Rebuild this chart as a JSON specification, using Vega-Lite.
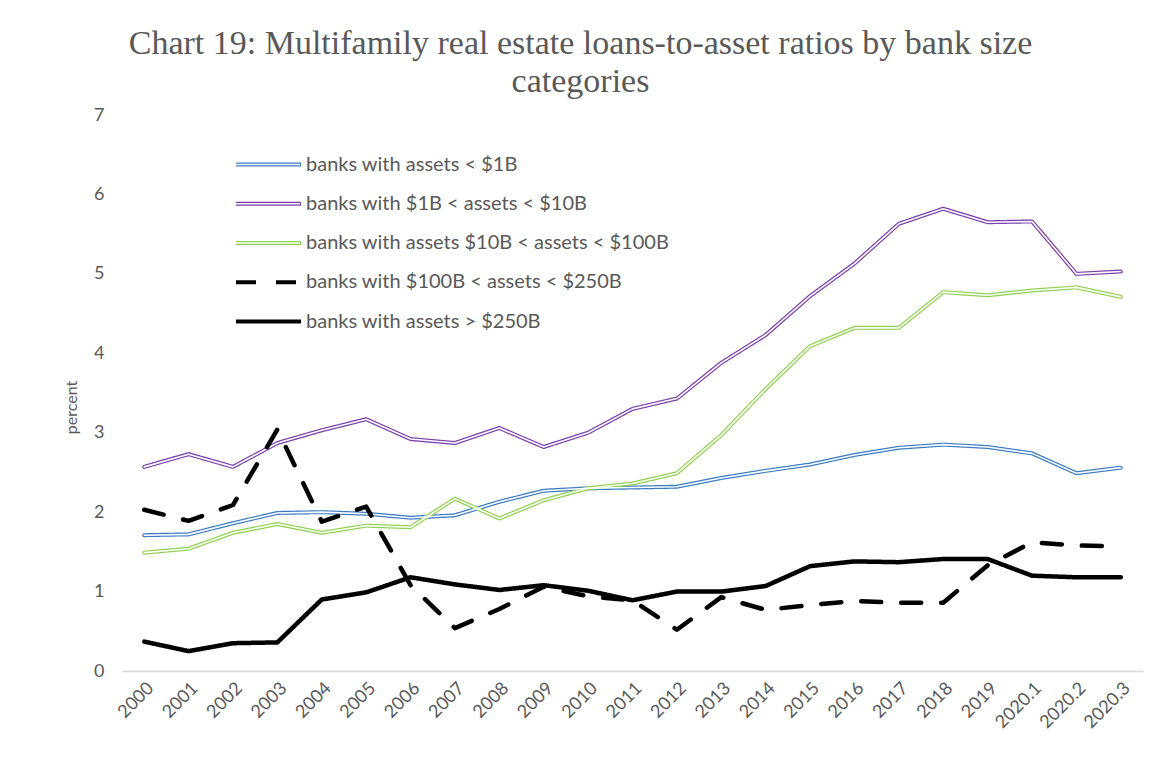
{
  "$schema": "https://vega.github.io/schema/vega-lite/v6.json",
  "width": 1021,
  "height": 556,
  "autosize": {"type": "none"},
  "padding": {"left": 122, "top": 115, "right": 8, "bottom": 90},
  "background": "white",
  "title": {
    "text": ["Chart 19: Multifamily real estate loans-to-asset ratios by bank size", "categories"],
    "font": "Liberation Serif",
    "fontSize": 34,
    "fontWeight": "normal",
    "color": "#595959",
    "anchor": "middle",
    "dx": -52,
    "offset": 7,
    "lineHeight": 38
  },
  "config": {
    "font": "Lato",
    "view": {"stroke": null},
    "axis": {"grid": false, "ticks": false, "labelColor": "#595959", "titleColor": "#595959", "titleFontWeight": "normal"}
  },
  "data": {
    "values": [
      {"period": "2000", "series": "banks with assets < $1B", "value": 1.71},
      {"period": "2001", "series": "banks with assets < $1B", "value": 1.72},
      {"period": "2002", "series": "banks with assets < $1B", "value": 1.86},
      {"period": "2003", "series": "banks with assets < $1B", "value": 1.99},
      {"period": "2004", "series": "banks with assets < $1B", "value": 2.0},
      {"period": "2005", "series": "banks with assets < $1B", "value": 1.98},
      {"period": "2006", "series": "banks with assets < $1B", "value": 1.93},
      {"period": "2007", "series": "banks with assets < $1B", "value": 1.96},
      {"period": "2008", "series": "banks with assets < $1B", "value": 2.13},
      {"period": "2009", "series": "banks with assets < $1B", "value": 2.27},
      {"period": "2010", "series": "banks with assets < $1B", "value": 2.3},
      {"period": "2011", "series": "banks with assets < $1B", "value": 2.31},
      {"period": "2012", "series": "banks with assets < $1B", "value": 2.32},
      {"period": "2013", "series": "banks with assets < $1B", "value": 2.43},
      {"period": "2014", "series": "banks with assets < $1B", "value": 2.52},
      {"period": "2015", "series": "banks with assets < $1B", "value": 2.6},
      {"period": "2016", "series": "banks with assets < $1B", "value": 2.72},
      {"period": "2017", "series": "banks with assets < $1B", "value": 2.81},
      {"period": "2018", "series": "banks with assets < $1B", "value": 2.85},
      {"period": "2019", "series": "banks with assets < $1B", "value": 2.82},
      {"period": "2020.1", "series": "banks with assets < $1B", "value": 2.74},
      {"period": "2020.2", "series": "banks with assets < $1B", "value": 2.49},
      {"period": "2020.3", "series": "banks with assets < $1B", "value": 2.56},
      {"period": "2000", "series": "banks with $1B < assets < $10B", "value": 2.57},
      {"period": "2001", "series": "banks with $1B < assets < $10B", "value": 2.73},
      {"period": "2002", "series": "banks with $1B < assets < $10B", "value": 2.57},
      {"period": "2003", "series": "banks with $1B < assets < $10B", "value": 2.87},
      {"period": "2004", "series": "banks with $1B < assets < $10B", "value": 3.03},
      {"period": "2005", "series": "banks with $1B < assets < $10B", "value": 3.17},
      {"period": "2006", "series": "banks with $1B < assets < $10B", "value": 2.92},
      {"period": "2007", "series": "banks with $1B < assets < $10B", "value": 2.87},
      {"period": "2008", "series": "banks with $1B < assets < $10B", "value": 3.06},
      {"period": "2009", "series": "banks with $1B < assets < $10B", "value": 2.82},
      {"period": "2010", "series": "banks with $1B < assets < $10B", "value": 3.0},
      {"period": "2011", "series": "banks with $1B < assets < $10B", "value": 3.3},
      {"period": "2012", "series": "banks with $1B < assets < $10B", "value": 3.43},
      {"period": "2013", "series": "banks with $1B < assets < $10B", "value": 3.88},
      {"period": "2014", "series": "banks with $1B < assets < $10B", "value": 4.23},
      {"period": "2015", "series": "banks with $1B < assets < $10B", "value": 4.72},
      {"period": "2016", "series": "banks with $1B < assets < $10B", "value": 5.13},
      {"period": "2017", "series": "banks with $1B < assets < $10B", "value": 5.63},
      {"period": "2018", "series": "banks with $1B < assets < $10B", "value": 5.82},
      {"period": "2019", "series": "banks with $1B < assets < $10B", "value": 5.65},
      {"period": "2020.1", "series": "banks with $1B < assets < $10B", "value": 5.66},
      {"period": "2020.2", "series": "banks with $1B < assets < $10B", "value": 5.0},
      {"period": "2020.3", "series": "banks with $1B < assets < $10B", "value": 5.03},
      {"period": "2000", "series": "banks with assets $10B < assets < $100B", "value": 1.49},
      {"period": "2001", "series": "banks with assets $10B < assets < $100B", "value": 1.54},
      {"period": "2002", "series": "banks with assets $10B < assets < $100B", "value": 1.74},
      {"period": "2003", "series": "banks with assets $10B < assets < $100B", "value": 1.85},
      {"period": "2004", "series": "banks with assets $10B < assets < $100B", "value": 1.74},
      {"period": "2005", "series": "banks with assets $10B < assets < $100B", "value": 1.83},
      {"period": "2006", "series": "banks with assets $10B < assets < $100B", "value": 1.81},
      {"period": "2007", "series": "banks with assets $10B < assets < $100B", "value": 2.17},
      {"period": "2008", "series": "banks with assets $10B < assets < $100B", "value": 1.92},
      {"period": "2009", "series": "banks with assets $10B < assets < $100B", "value": 2.15},
      {"period": "2010", "series": "banks with assets $10B < assets < $100B", "value": 2.3},
      {"period": "2011", "series": "banks with assets $10B < assets < $100B", "value": 2.36},
      {"period": "2012", "series": "banks with assets $10B < assets < $100B", "value": 2.49},
      {"period": "2013", "series": "banks with assets $10B < assets < $100B", "value": 2.97},
      {"period": "2014", "series": "banks with assets $10B < assets < $100B", "value": 3.55},
      {"period": "2015", "series": "banks with assets $10B < assets < $100B", "value": 4.09},
      {"period": "2016", "series": "banks with assets $10B < assets < $100B", "value": 4.32},
      {"period": "2017", "series": "banks with assets $10B < assets < $100B", "value": 4.32},
      {"period": "2018", "series": "banks with assets $10B < assets < $100B", "value": 4.77},
      {"period": "2019", "series": "banks with assets $10B < assets < $100B", "value": 4.73},
      {"period": "2020.1", "series": "banks with assets $10B < assets < $100B", "value": 4.79},
      {"period": "2020.2", "series": "banks with assets $10B < assets < $100B", "value": 4.83},
      {"period": "2020.3", "series": "banks with assets $10B < assets < $100B", "value": 4.71},
      {"period": "2000", "series": "banks with $100B  < assets  < $250B", "value": 2.03},
      {"period": "2001", "series": "banks with $100B  < assets  < $250B", "value": 1.89},
      {"period": "2002", "series": "banks with $100B  < assets  < $250B", "value": 2.09},
      {"period": "2003", "series": "banks with $100B  < assets  < $250B", "value": 3.04},
      {"period": "2004", "series": "banks with $100B  < assets  < $250B", "value": 1.88},
      {"period": "2005", "series": "banks with $100B  < assets  < $250B", "value": 2.07},
      {"period": "2006", "series": "banks with $100B  < assets  < $250B", "value": 1.08},
      {"period": "2007", "series": "banks with $100B  < assets  < $250B", "value": 0.54},
      {"period": "2008", "series": "banks with $100B  < assets  < $250B", "value": 0.78},
      {"period": "2009", "series": "banks with $100B  < assets  < $250B", "value": 1.06},
      {"period": "2010", "series": "banks with $100B  < assets  < $250B", "value": 0.94},
      {"period": "2011", "series": "banks with $100B  < assets  < $250B", "value": 0.89},
      {"period": "2012", "series": "banks with $100B  < assets  < $250B", "value": 0.52},
      {"period": "2013", "series": "banks with $100B  < assets  < $250B", "value": 0.93},
      {"period": "2014", "series": "banks with $100B  < assets  < $250B", "value": 0.77},
      {"period": "2015", "series": "banks with $100B  < assets  < $250B", "value": 0.83},
      {"period": "2016", "series": "banks with $100B  < assets  < $250B", "value": 0.88},
      {"period": "2017", "series": "banks with $100B  < assets  < $250B", "value": 0.86},
      {"period": "2018", "series": "banks with $100B  < assets  < $250B", "value": 0.86},
      {"period": "2019", "series": "banks with $100B  < assets  < $250B", "value": 1.33},
      {"period": "2020.1", "series": "banks with $100B  < assets  < $250B", "value": 1.62},
      {"period": "2020.2", "series": "banks with $100B  < assets  < $250B", "value": 1.58},
      {"period": "2020.3", "series": "banks with $100B  < assets  < $250B", "value": 1.57},
      {"period": "2000", "series": "banks with assets > $250B", "value": 0.37},
      {"period": "2001", "series": "banks with assets > $250B", "value": 0.25},
      {"period": "2002", "series": "banks with assets > $250B", "value": 0.35},
      {"period": "2003", "series": "banks with assets > $250B", "value": 0.36},
      {"period": "2004", "series": "banks with assets > $250B", "value": 0.9},
      {"period": "2005", "series": "banks with assets > $250B", "value": 0.99},
      {"period": "2006", "series": "banks with assets > $250B", "value": 1.18},
      {"period": "2007", "series": "banks with assets > $250B", "value": 1.09},
      {"period": "2008", "series": "banks with assets > $250B", "value": 1.02},
      {"period": "2009", "series": "banks with assets > $250B", "value": 1.08},
      {"period": "2010", "series": "banks with assets > $250B", "value": 1.01},
      {"period": "2011", "series": "banks with assets > $250B", "value": 0.89},
      {"period": "2012", "series": "banks with assets > $250B", "value": 1.0},
      {"period": "2013", "series": "banks with assets > $250B", "value": 1.0},
      {"period": "2014", "series": "banks with assets > $250B", "value": 1.07},
      {"period": "2015", "series": "banks with assets > $250B", "value": 1.32},
      {"period": "2016", "series": "banks with assets > $250B", "value": 1.38},
      {"period": "2017", "series": "banks with assets > $250B", "value": 1.37},
      {"period": "2018", "series": "banks with assets > $250B", "value": 1.41},
      {"period": "2019", "series": "banks with assets > $250B", "value": 1.41},
      {"period": "2020.1", "series": "banks with assets > $250B", "value": 1.2},
      {"period": "2020.2", "series": "banks with assets > $250B", "value": 1.18},
      {"period": "2020.3", "series": "banks with assets > $250B", "value": 1.18}
    ]
  },
  "encoding": {
    "x": {
      "field": "period", "type": "ordinal", "sort": null,
      "scale": {"type": "point", "padding": 0.5},
      "axis": {"title": null, "labelAngle": -45, "labelFontSize": 18, "labelPadding": 8, "domainColor": "#d9d9d9", "domainWidth": 1.5}
    },
    "y": {
      "field": "value", "type": "quantitative",
      "scale": {"domain": [0, 7]},
      "axis": {"title": "percent", "values": [0, 1, 2, 3, 4, 5, 6, 7], "domain": false, "labelFontSize": 18, "labelPadding": 18, "titleFontSize": 16, "titlePadding": 14, "titleY": 292}
    }
  },
  "layer": [
    {
      "transform": [{"filter": {"field": "series", "oneOf": ["banks with assets < $1B", "banks with $1B < assets < $10B", "banks with assets $10B < assets < $100B"]}}],
      "mark": {"type": "line", "strokeWidth": 4, "strokeJoin": "round", "strokeCap": "round"},
      "encoding": {
        "color": {
          "field": "series", "type": "nominal",
          "scale": {"domain": ["banks with assets < $1B", "banks with $1B < assets < $10B", "banks with assets $10B < assets < $100B", "banks with $100B  < assets  < $250B", "banks with assets > $250B"], "range": ["#3b7dc4", "#7b3fae", "#8ed14f", "#000000", "#000000"]},
          "legend": {"title": null, "orient": "none", "legendX": 112, "legendY": 37.5, "symbolType": "stroke", "symbolSize": 4225, "symbolStrokeWidth": 4, "clipHeight": 24, "labelFontSize": 20, "labelColor": "#595959", "labelOffset": 3, "labelLimit": 600, "rowPadding": 15.25}
        },
        "strokeDash": {
          "field": "series", "type": "nominal",
          "scale": {"domain": ["banks with assets < $1B", "banks with $1B < assets < $10B", "banks with assets $10B < assets < $100B", "banks with $100B  < assets  < $250B", "banks with assets > $250B"], "range": [[1, 0], [1, 0], [1, 0], [20, 20], [1, 0]]}
        }
      }
    },
    {
      "transform": [{"filter": {"field": "series", "oneOf": ["banks with assets < $1B", "banks with $1B < assets < $10B", "banks with assets $10B < assets < $100B"]}}],
      "mark": {"type": "line", "strokeJoin": "round", "strokeCap": "round", "color": "white"},
      "encoding": {
        "detail": {"field": "series"},
        "strokeWidth": {
          "field": "series", "type": "nominal",
          "scale": {"domain": ["banks with assets < $1B", "banks with $1B < assets < $10B", "banks with assets $10B < assets < $100B"], "range": [1.6, 1.6, 1.6]},
          "legend": {"title": null, "orient": "none", "legendX": 112, "legendY": 37.5, "symbolType": "stroke", "symbolSize": 4225, "symbolStrokeColor": "white", "clipHeight": 24, "labelFontSize": 20, "labelExpr": "''", "labelOffset": 3, "rowPadding": 15.25}
        }
      }
    },
    {
      "transform": [{"filter": {"field": "series", "oneOf": ["banks with $100B  < assets  < $250B", "banks with assets > $250B"]}}],
      "mark": {"type": "line", "strokeWidth": 4.5, "strokeJoin": "round", "strokeCap": "round"},
      "encoding": {
        "color": {"field": "series", "type": "nominal"},
        "strokeDash": {"field": "series", "type": "nominal"}
      }
    }
  ]
}
